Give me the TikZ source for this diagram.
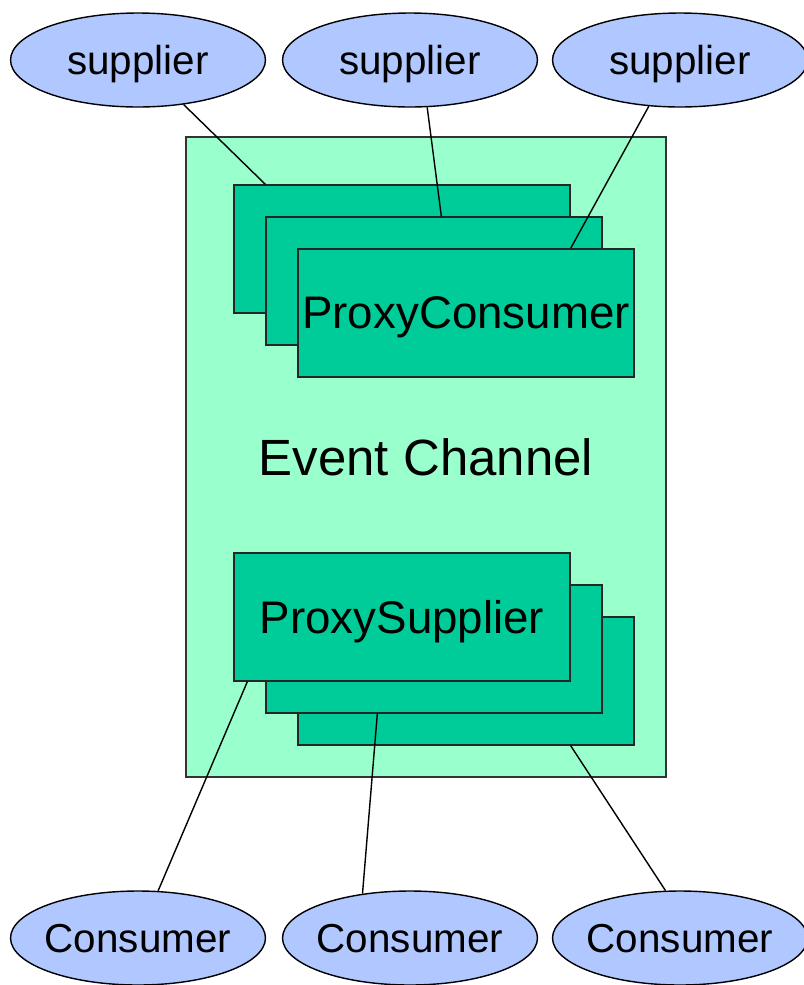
\documentclass[tikz,border=0pt]{standalone}
\usepackage{fontspec}
\setmainfont{Liberation Sans}
\usepackage{tikz}
\usetikzlibrary{shapes.geometric, calc}
\definecolor{endpointblue}{RGB}{176, 200, 255}
\definecolor{channelgreen}{RGB}{153, 255, 204}
\definecolor{proxygreen}{RGB}{0, 204, 153}

\begin{document}
\begin{tikzpicture}[
    x=0.02cm, y=-0.02cm,
    endpoint/.style={ellipse, draw=black, line width=0.8pt, fill=endpointblue, inner xsep=-2pt, inner ysep=0pt, text depth=0pt, minimum width=5.1cm, minimum height=1.88cm, font=\fontsize{23}{27}\selectfont},
    channelbox/.style={rectangle, draw=black!80, line width=0.8pt, fill=channelgreen, minimum width=9.6cm, minimum height=12.8cm, font=\fontsize{29}{34}\selectfont},
    proxybox/.style={rectangle, draw=black!85, line width=0.8pt, fill=proxygreen, inner sep=0pt, text depth=0pt, minimum width=6.72cm, minimum height=2.56cm, font=\fontsize{26}{31}\selectfont},
    wire/.style={draw=black, line width=0.8pt}
  ]
  \useasboundingbox (0,0) rectangle (804,985);

  % Suppliers
  \node[endpoint] (sup1) at (138,60) {supplier};
  \node[endpoint] (sup2) at (410,60) {supplier};
  \node[endpoint] (sup3) at (680,60) {supplier};

  % Event Channel
  \node[channelbox] (channel) at (426,457) {Event Channel};

  % Proxy Consumers
  \node[proxybox] (pc1) at (402,249) {};
  \node[proxybox] (pc2) at (434,281) {};
  \node[proxybox] (pc3) at (466,313) {ProxyConsumer};

  % Proxy Suppliers
  \node[proxybox] (ps3) at (466,681) {};
  \node[proxybox] (ps2) at (434,649) {};
  \node[proxybox] (ps1) at (402,617) {ProxySupplier};

  % Consumers
  \node[endpoint] (con1) at (138,938) {Consumer};
  \node[endpoint] (con2) at (410,938) {Consumer};
  \node[endpoint] (con3) at (680,938) {Consumer};

  % Connections
  \draw[wire] (sup1) -- ($(pc1.north west)+(32,0)$);
  \draw[wire] (sup2.-70) -- ($(pc2.north west)+(176,0)$);
  \draw[wire] (sup3.-124) -- ($(pc3.north east)+(-64,0)$);
  \draw[wire] ($(ps1.south west)+(14,0)$) -- (con1);
  \draw[wire] ($(ps2.south west)+(112,0)$) -- (con2.137);
  \draw[wire] ($(ps3.south east)+(-64,0)$) -- (con3.107);
\end{tikzpicture}
\end{document}
